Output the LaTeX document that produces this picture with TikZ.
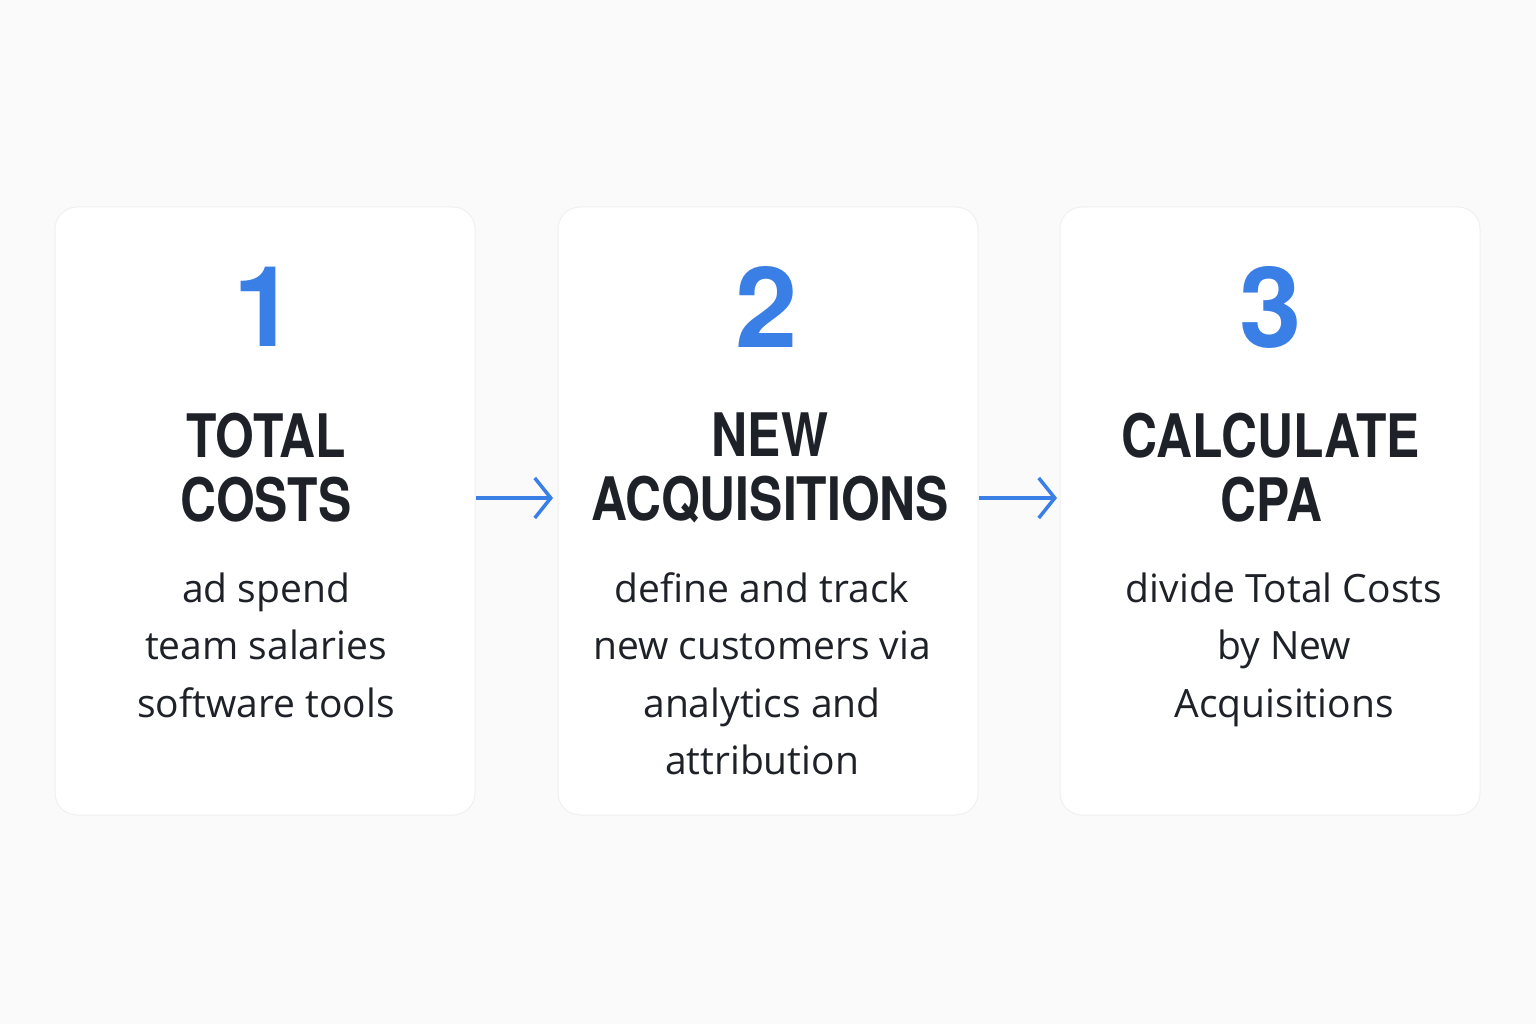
\documentclass[tikz,border=0pt]{standalone}
\usepackage{fontspec}
\setmainfont{Open Sans}
\newfontfamily\titlefont{TeX Gyre Heros}
\usetikzlibrary{arrows.meta}
\definecolor{bg}{HTML}{FAFAFA}
\definecolor{blueA}{HTML}{3A7FE6}
\definecolor{ink}{HTML}{1E2228}
\definecolor{edge}{HTML}{F0F0F0}
\begin{document}
\begin{tikzpicture}[x=1pt,y=-1pt,
  card/.style={draw=edge,line width=1pt,fill=white,rounded corners=22pt},
  num/.style={text=blueA,font=\titlefont\bfseries\fontsize{112}{112}\selectfont},
  ttl/.style={text=ink,font=\titlefont\bfseries\fontsize{60}{64}\selectfont,align=center,xscale=0.83},
  body/.style={text=ink,font=\fontsize{39}{57.5}\selectfont,align=center,anchor=north},
  arr/.style={draw=blueA,line width=3.5pt,-{Straight Barb[length=16pt,width=40pt,line width=3.5pt]}}]
\fill[bg] (0,0) rectangle (1536,1024);
\draw[card] (55,207) rectangle (475,815);
\draw[card] (558,207) rectangle (978,815);
\draw[card] (1060,207) rectangle (1480,815);
\node[num] (n1) at (265,307) {1};
\node[num] (n2) at (767,307) {2};
\node[num] (n3) at (1271,307) {3};
\node[ttl] (t1) at (266,468) {TOTAL\\COSTS};
\node[ttl] (t2) at (770,468) {NEW\\ACQUISITIONS};
\node[ttl] (t3) at (1271,468) {CALCULATE\\CPA};
\node[body] (b1) at (266,569) {ad spend\\team salaries\\software tools};
\node[body] (b2) at (762,569) {define and track\\new customers via\\analytics and\\attribution};
\node[body] (b3) at (1284,569) {divide Total Costs\\by New\\Acquisitions};
\coordinate (a1s) at (476,498); \coordinate (a1e) at (553,498);
\coordinate (a2s) at (979,498); \coordinate (a2e) at (1057,498);
\draw[arr] (a1s) -- (a1e);
\draw[arr] (a2s) -- (a2e);
\end{tikzpicture}
\end{document}
